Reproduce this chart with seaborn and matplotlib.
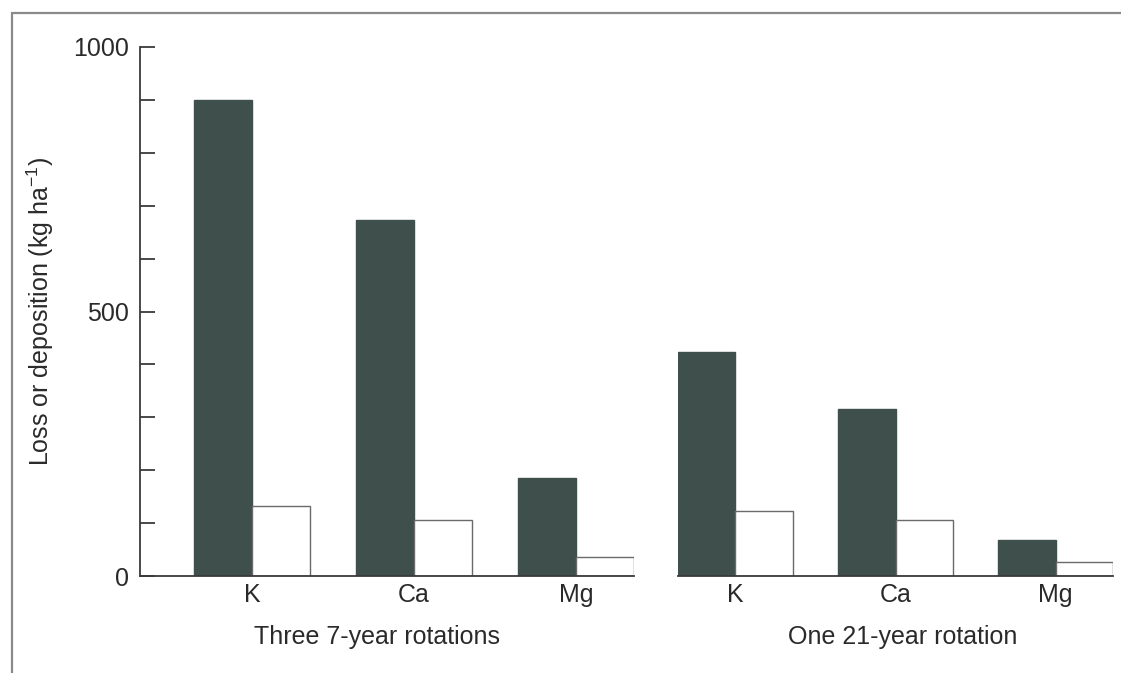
import matplotlib
matplotlib.use("Agg")
import matplotlib.pyplot as plt
from matplotlib.lines import Line2D
from matplotlib.ticker import MultipleLocator, FixedLocator
import seaborn as sns
import pandas as pd

# Nutrient budgets (kg ha-1) for two harvesting regimes
elements = ["K", "Ca", "Mg"]
loss_three_rotations = [900, 673, 185]
deposition_three_rotations = [132, 106, 36]
loss_one_rotation = [423, 316, 68]
deposition_one_rotation = [123, 106, 26]
regime_labels = ["Three 7-year rotations", "One 21-year rotation"]

DARK = "#3e4f4c"
EDGE = "#6a6a6a"
AXIS = "#3a3a3a"
TEXT = "#2a2a2a"
FS = 18

sns.set_theme(style="white")
plt.rcParams["font.family"] = ["Liberation Sans", "DejaVu Sans"]
plt.rcParams["mathtext.fontset"] = "custom"
plt.rcParams["mathtext.rm"] = "Liberation Sans"
plt.rcParams["mathtext.it"] = "Liberation Sans:italic"


def regime_frame(loss, deposition):
    rows = []
    for el, lo, de in zip(elements, loss, deposition):
        rows.append({"element": el, "kind": "Loss", "value": lo})
        rows.append({"element": el, "kind": "Deposition", "value": de})
    return pd.DataFrame(rows)


frames = [
    regime_frame(loss_three_rotations, deposition_three_rotations),
    regime_frame(loss_one_rotation, deposition_one_rotation),
]

W, H = 1121, 673
fig = plt.figure(figsize=(W / 100, H / 100), dpi=100)
fig.patch.set_facecolor("white")

y0, y1 = 576, 47
bottom = (H - y0) / H
height = (y0 - y1) / H
ax1 = fig.add_axes([140 / W, bottom, (634 - 140) / W, height])
ax2 = fig.add_axes([678 / W, bottom, (1113 - 678) / W, height])

bar_w = 0.716
for ax, df in zip((ax1, ax2), frames):
    sns.barplot(
        data=df, x="element", y="value", hue="kind",
        order=elements, hue_order=["Loss", "Deposition"],
        palette={"Loss": DARK, "Deposition": "white"},
        width=bar_w, gap=0, legend=False, errorbar=None,
        edgecolor=EDGE, linewidth=1.0, saturation=1, ax=ax,
    )
    for patch in ax.patches:
        fc = patch.get_facecolor()
        if fc[0] < 0.5:
            patch.set_edgecolor(DARK)
    ax.set_ylim(0, 1000)
    ax.set_facecolor("none")
    ax.set_ylabel("")
    for side in ("top", "right"):
        ax.spines[side].set_visible(False)
    ax.spines["bottom"].set_color(AXIS)
    ax.spines["bottom"].set_linewidth(1.3)
    ax.tick_params(axis="x", length=0, pad=5, labelsize=FS, labelcolor=TEXT)

ax1.set_xlim(-0.69, 2 + bar_w / 2)
ax2.set_xlim(-bar_w / 2, 2 + bar_w / 2)

# y axis on the left panel only, ticks pointing inward
ax1.spines["left"].set_color(AXIS)
ax1.spines["left"].set_linewidth(1.3)
ax1.yaxis.set_major_locator(FixedLocator([0, 500, 1000]))
ax1.yaxis.set_minor_locator(MultipleLocator(100))
ax1.tick_params(axis="y", which="both", direction="in", length=11, width=1.3,
                color=AXIS, left=True, labelsize=FS, labelcolor=TEXT, pad=8)
ax1.set_ylabel(r"Loss or deposition (kg ha$^{\mathregular{-1}}$)",
               fontsize=FS, color=TEXT, labelpad=12)

ax2.spines["left"].set_visible(False)
ax2.set_yticks([])

for ax, lab, xc in ((ax1, regime_labels[0], 0.48), (ax2, regime_labels[1], 0.517)):
    ax.set_xlabel(lab, fontsize=FS, color=TEXT)
    ax.xaxis.set_label_coords(xc, -0.093)

# thin page frame along the top and left
fig.add_artist(Line2D([12 / W, 1.0], [1 - 13 / H, 1 - 13 / H],
                      transform=fig.transFigure, color="#8a8a8a", lw=1.6))
fig.add_artist(Line2D([12 / W, 12 / W], [1 - 13 / H, 0.0],
                      transform=fig.transFigure, color="#8a8a8a", lw=1.6))

fig.savefig("out.png", dpi=100, facecolor="white")
